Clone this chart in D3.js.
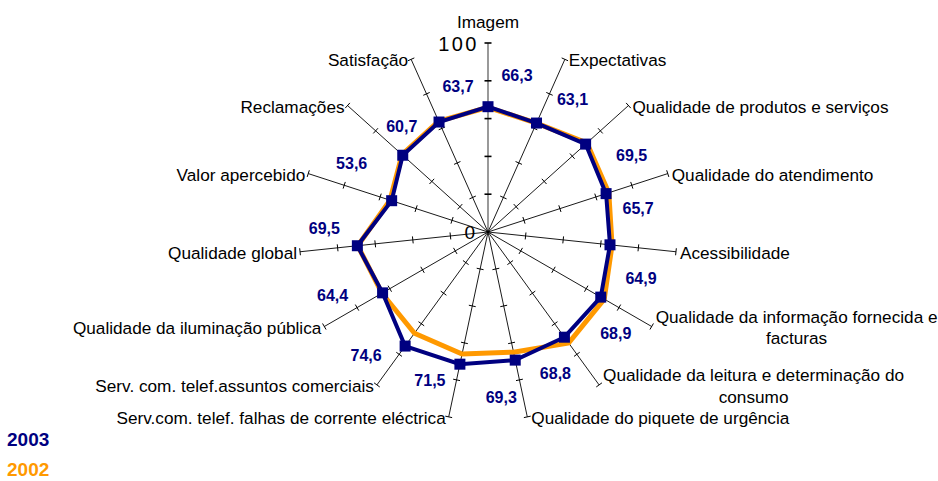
<!DOCTYPE html>
<html>
<head>
<meta charset="utf-8">
<script src="https://cdn.jsdelivr.net/npm/d3@7"></script>
<style>
  html, body { margin: 0; padding: 0; background: #fff; }
  svg { display: block; font-family: "Liberation Sans", Arial, sans-serif; }
</style>
</head>
<body>
<svg id="chart" width="938" height="481"></svg>
<script>
// Satisfaction index dimensions (clockwise from the top)
const categories = [
  "Imagem",
  "Expectativas",
  "Qualidade de produtos e serviços",
  "Qualidade do atendimento",
  "Acessibilidade",
  "Qualidade da informação fornecida e|facturas",
  "Qualidade da leitura e determinação do|consumo",
  "Qualidade do piquete de urgência",
  "Serv.com. telef. falhas de corrente eléctrica",
  "Serv. com. telef.assuntos comerciais",
  "Qualidade da iluminação pública",
  "Qualidade global",
  "Valor apercebido",
  "Reclamações",
  "Satisfação"
];
const values2003 = [66.3, 63.1, 69.5, 65.7, 64.9, 68.9, 68.8, 69.3, 71.5, 74.6, 64.4, 69.5, 53.6, 60.7, 63.7];
const values2002 = [66.0, 63.0, 70.4, 67.2, 66.0, 71.0, 72.6, 65.0, 66.0, 66.2, 64.8, 69.3, 54.5, 61.2, 64.2];
const seriesNames = ["2003", "2002"];
const tickValues = [20, 40, 60, 80, 100];
const tickLabels = ["0", "100"];

// Where each value label sits relative to its marker (px)
const labelNudge = [
  [29, -32], [36, -24], [46, 11], [32, 14], [31, 33],
  [15, 36], [-9, 36], [-14, 37], [-30, 16], [-39, 9],
  [-50, 2], [-33, -18], [-40, -38], [-1, -29], [19, -36]
];

const NAVY = "#000080", ORANGE = "#FF9900";
const cx = 488, cy = 232, R = 189;

const svg = d3.select("#chart");
const g = svg.append("g").attr("transform", `translate(${cx},${cy})`);

const r = d3.scaleLinear().domain([0, 100]).range([0, R]);
const angle = d3.scaleLinear().domain([0, categories.length]).range([0, 2 * Math.PI]);
const pt = (i, v) => [Math.sin(angle(i)) * r(v), -Math.cos(angle(i)) * r(v)];

// Radial axes with tick marks
categories.forEach((c, i) => {
  const a = angle(i);
  const [ex, ey] = pt(i, 100);
  g.append("line")
    .attr("x1", 0).attr("y1", 0).attr("x2", ex).attr("y2", ey)
    .attr("stroke", i === 0 ? "#808080" : "#000")
    .attr("stroke-width", i === 0 ? 1.6 : 0.9);
  tickValues.forEach(t => {
    const [tx, ty] = pt(i, t);
    const px = Math.cos(a) * 3.5, py = Math.sin(a) * 3.5;
    g.append("line")
      .attr("x1", tx - px).attr("y1", ty - py)
      .attr("x2", tx + px).attr("y2", ty + py)
      .attr("stroke", "#000").attr("stroke-width", i === 0 ? 1.6 : 1);
  });
});

// Scale labels on the first axis
g.append("text").attr("x", -13).attr("y", r(0) + 7)
  .attr("text-anchor", "end").attr("font-size", 19).attr("fill", "#000")
  .text(tickLabels[0]);
g.append("text").attr("x", -9).attr("y", -r(100) + 8)
  .attr("text-anchor", "end").attr("font-size", 20).attr("letter-spacing", 2.5)
  .attr("fill", "#000")
  .text(tickLabels[1]);

// Category labels at the axis ends
categories.forEach((c, i) => {
  const a = angle(i);
  const s = Math.sin(a);
  const [ex, ey] = pt(i, 100);
  const lines = c.split("|");
  const t = g.append("text").attr("font-size", 17.2).attr("fill", "#000");
  if (Math.abs(s) < 0.1) {
    t.attr("text-anchor", "middle").attr("x", ex).attr("y", ey - 15).text(lines[0]);
    return;
  }
  const lh = 21.5;
  const top = ey + 7 - (lines.length - 1) * lh / 2;
  if (lines.length === 1) {
    t.attr("text-anchor", s > 0 ? "start" : "end")
      .attr("x", s > 0 ? ex + 4 : ex - 3).attr("y", top).text(lines[0]);
  } else {
    const spans = lines.map((l, k) => t.append("tspan").attr("y", top + k * lh).text(l));
    const w = d3.max(spans, sp => sp.node().getComputedTextLength());
    const mid = s > 0 ? ex + 4 + w / 2 : ex - 3 - w / 2;
    t.attr("text-anchor", "middle");
    spans.forEach(sp => sp.attr("x", mid));
  }
});

// Series polygons
const radial = d3.lineRadial()
  .angle((d, i) => angle(i))
  .radius(d => r(d))
  .curve(d3.curveLinearClosed);

g.append("path").datum(values2002).attr("d", radial)
  .attr("fill", "none").attr("stroke", ORANGE).attr("stroke-width", 5)
  .attr("stroke-linejoin", "miter");
g.append("path").datum(values2003).attr("d", radial)
  .attr("fill", "none").attr("stroke", NAVY).attr("stroke-width", 4)
  .attr("stroke-linejoin", "miter");

// Markers for 2003
const ms = 11;
g.selectAll("rect.mk").data(values2003).join("rect")
  .attr("class", "mk")
  .attr("x", (d, i) => pt(i, d)[0] - ms / 2)
  .attr("y", (d, i) => pt(i, d)[1] - ms / 2)
  .attr("width", ms).attr("height", ms)
  .attr("fill", NAVY);

// Value labels for 2003
const fmt = v => d3.format(".1f")(v).replace(".", ",");
g.selectAll("text.val").data(values2003).join("text")
  .attr("class", "val")
  .attr("x", (d, i) => pt(i, d)[0] + labelNudge[i][0])
  .attr("y", (d, i) => pt(i, d)[1] + labelNudge[i][1] + 6)
  .attr("text-anchor", "middle")
  .attr("font-size", 16).attr("font-weight", "bold").attr("fill", NAVY)
  .text(d => fmt(d));

// Legend
const legend = svg.append("g");
[NAVY, ORANGE].forEach((col, k) => {
  legend.append("text").attr("x", 7).attr("y", 446 + k * 30)
    .attr("font-size", 19).attr("font-weight", "bold").attr("fill", col)
    .text(seriesNames[k]);
});
</script>
</body>
</html>
